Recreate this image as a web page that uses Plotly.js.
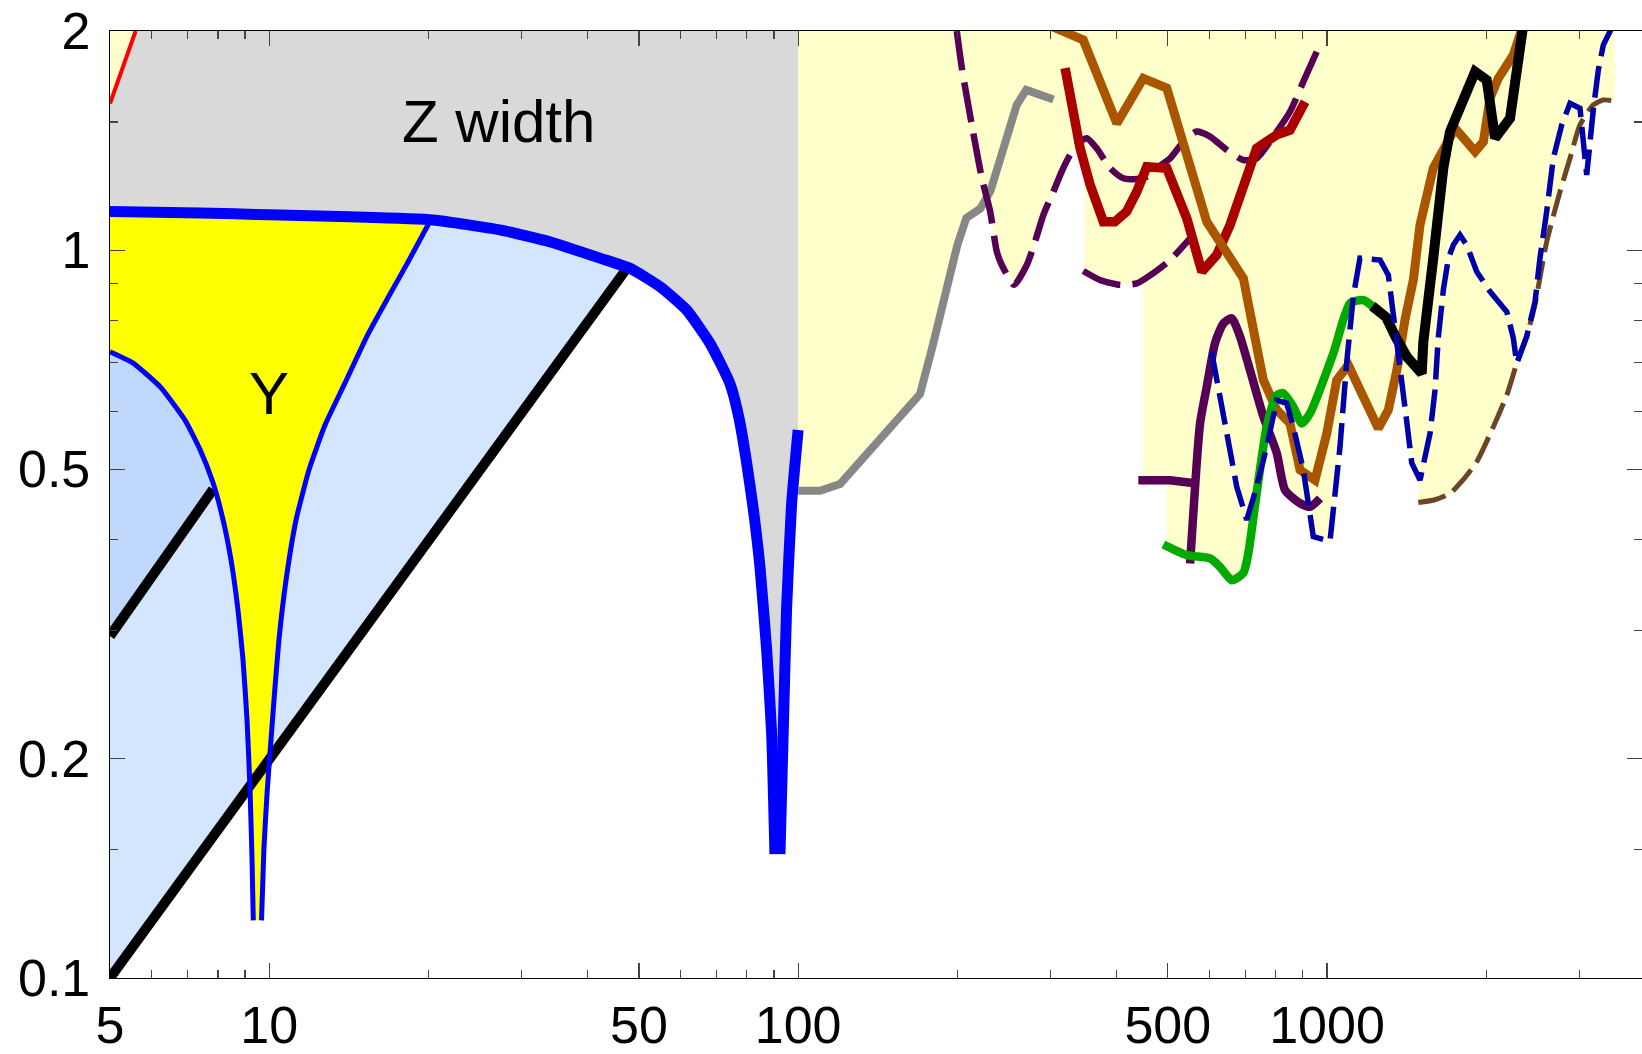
<!DOCTYPE html>
<html>
<head>
<meta charset="utf-8">
<script src="https://cdn.plot.ly/plotly-3.0.1.min.js"></script>
<style>html,body{margin:0;padding:0;background:#fff;}#chart{width:1642px;height:1054px;}</style>
</head>
<body>
<div id="chart"></div>
<script>
// ---------- data ----------
const xTickVals = [5, 10, 50, 100, 500, 1000];
const xTickText = ["5", "10", "50", "100", "500", "1000"];
const xMinorVals = [6, 7, 8, 9, 20, 30, 40, 60, 70, 80, 90, 200, 300, 400, 600, 700, 800, 900, 2000, 3000];
const yTickVals = [0.1, 0.2, 0.5, 1, 2];
const yTickText = ["0.1", "0.2", "0.5", "1", "2"];
const yMinorVals = [0.15, 0.3, 0.4, 0.6, 0.7, 0.8, 0.9, 1.5];

// Z width boundary (thick blue)
const zwX = [5, 7.4, 10, 14.2, 20.4, 27.3, 33.9, 42.2, 48.1, 54.8, 61.5, 68.1, 74.3, 77.3, 79.9, 82.3, 84.7, 87.2, 89.1, 90.4, 92.4, 93.7, 95.1, 97.2, 100];
const zwY = [1.130, 1.125, 1.118, 1.111, 1.100, 1.066, 1.027, 0.975, 0.944, 0.891, 0.828, 0.745, 0.656, 0.588, 0.511, 0.44, 0.367, 0.282, 0.217, 0.148, 0.148, 0.217, 0.322, 0.448, 0.566];

// Y region boundaries (thin blue)
const vLeftX = [5, 5.52, 6.22, 6.93, 7.4, 7.83, 8.18, 8.47, 8.73, 8.92, 9.08, 9.2, 9.28, 9.33];
const vLeftY = [0.725, 0.700, 0.649, 0.584, 0.532, 0.479, 0.426, 0.375, 0.320, 0.274, 0.226, 0.181, 0.145, 0.120];
const vRightX = [9.67, 9.77, 9.90, 10.03, 10.21, 10.43, 10.76, 11.24, 11.89, 12.75, 13.91, 15.31, 16.77, 18.30, 20.1];
const vRightY = [0.120, 0.150, 0.178, 0.203, 0.241, 0.291, 0.352, 0.426, 0.499, 0.575, 0.657, 0.762, 0.860, 0.963, 1.093];

// black straight lines
const blackLoX = [5, 48];
const blackLoY = [0.1, 0.955];
const blackUpX = [5, 7.83];
const blackUpY = [0.295, 0.469];

// red line at top-left
const redThinX = [5, 5.59];
const redThinY = [1.59, 2.0];

// experimental curves
const grayX = [100, 110, 120, 170, 180, 190, 200, 208, 221, 231, 244, 259, 270, 304];
const grayY = [0.467, 0.467, 0.477, 0.634, 0.743, 0.879, 1.016, 1.107, 1.14, 1.206, 1.377, 1.583, 1.66, 1.61];

const purpleDashAX = [199.5, 204, 213, 222.5, 230.7, 237.5, 242.7, 256, 270.6, 280.5, 290.9, 303.8, 315, 326.7, 338.8, 351.3, 366.9, 388.9, 412, 436.8, 456.3, 476.5, 505, 535, 567, 601, 646, 694.6, 736, 803.5, 851, 902, 956];
const purpleDashAY = [2.0, 1.778, 1.486, 1.256, 1.130, 0.995, 0.954, 0.896, 0.954, 1.027, 1.118, 1.203, 1.282, 1.351, 1.402, 1.425, 1.380, 1.296, 1.255, 1.252, 1.262, 1.296, 1.337, 1.409, 1.455, 1.432, 1.373, 1.330, 1.337, 1.455, 1.549, 1.704, 1.873];

const purpleDashBX = [346, 372, 406, 436.8, 469.5, 505, 553];
const purpleDashBY = [0.936, 0.910, 0.896, 0.900, 0.930, 0.969, 1.041];

const redX = [319.7, 331.4, 341.3, 356.5, 377.7, 397, 418, 436.8, 456.3, 497.7, 543, 580, 618.7, 655.6, 694.6, 736, 803.5, 851, 908.7];
const redY = [1.778, 1.549, 1.380, 1.229, 1.094, 1.094, 1.130, 1.203, 1.302, 1.296, 1.106, 0.934, 0.985, 1.083, 1.229, 1.380, 1.440, 1.462, 1.599];

const brownX = [294.4, 346, 400.4, 449.5, 497.7, 543, 592.4, 694.6, 725.6, 757.8, 803.5, 851, 889, 949, 999, 1043, 1097, 1171, 1250, 1306, 1355, 1404, 1456, 1499, 1588, 1746, 1905, 1975, 2033, 2108, 2250, 2350];
const brownY = [2.045, 1.944, 1.493, 1.722, 1.669, 1.351, 1.094, 0.915, 0.777, 0.663, 0.603, 0.578, 0.499, 0.483, 0.560, 0.663, 0.695, 0.629, 0.569, 0.603, 0.684, 0.802, 0.910, 1.083, 1.296, 1.470, 1.366, 1.409, 1.617, 1.722, 1.854, 2.04];

const purpleFlatX = [439.8, 505, 567];
const purpleFlatY = [0.483, 0.483, 0.478];
const purpleSolidX = [551, 575.4, 592.4, 614, 636.8, 660.4, 684.6, 715, 757.8, 803.5, 833, 889, 928.8, 970];
const purpleSolidY = [0.371, 0.578, 0.649, 0.745, 0.793, 0.806, 0.761, 0.684, 0.591, 0.526, 0.468, 0.449, 0.444, 0.456];

const greenX = [490.4, 543, 601, 627.6, 660.4, 694.6, 709.8, 736, 769, 803.5, 826.8, 863.6, 896, 928.8, 1028, 1105, 1171, 1217];
const greenY = [0.394, 0.381, 0.377, 0.367, 0.352, 0.360, 0.383, 0.463, 0.572, 0.632, 0.636, 0.609, 0.578, 0.597, 0.722, 0.845, 0.854, 0.838];

const blackX = [1217, 1293, 1350, 1417, 1510, 1521, 1588, 1659, 1708, 1810, 1905, 2004, 2078, 2218, 2334, 2350];
const blackY = [0.838, 0.809, 0.758, 0.713, 0.677, 0.749, 0.975, 1.296, 1.455, 1.617, 1.758, 1.713, 1.425, 1.517, 1.933, 2.04];

const blueDashX = [605, 618.7, 646, 675, 705, 736, 769, 803.5, 839, 863.6, 902, 942, 1013, 1028, 1058, 1089, 1121, 1154, 1260, 1306, 1335, 1374, 1415, 1446, 1499, 1566, 1600, 1623, 1659, 1696, 1733, 1784, 1837, 1919, 2033, 2187, 2250, 2284, 2385, 2473, 2527, 2602, 2678, 2778, 2880, 3008, 3097, 3187, 3258, 3329, 3477];
const blueDashY = [0.725, 0.663, 0.560, 0.473, 0.426, 0.473, 0.537, 0.622, 0.616, 0.572, 0.499, 0.404, 0.398, 0.444, 0.537, 0.699, 0.863, 0.975, 0.969, 0.924, 0.819, 0.677, 0.581, 0.510, 0.483, 0.560, 0.642, 0.758, 0.881, 0.975, 1.016, 1.049, 1.016, 0.934, 0.877, 0.823, 0.757, 0.699, 0.761, 0.849, 0.975, 1.130, 1.337, 1.486, 1.591, 1.566, 1.268, 1.558, 1.768, 1.913, 2.04];

const brownDashX = [1488, 1600, 1708, 1797, 1919, 2063, 2187, 2284, 2385, 2473, 2602, 2757, 2880, 3008, 3187, 3329, 3503];
const brownDashY = [0.450, 0.454, 0.463, 0.481, 0.512, 0.572, 0.632, 0.699, 0.761, 0.843, 1.027, 1.203, 1.337, 1.486, 1.583, 1.608, 1.602];

// excluded (pale yellow) region boundary
const exclX = [100, 100, 110, 120, 170, 180, 190, 200, 208, 221, 226, 230.7, 237.5, 242.7, 256, 270.6, 280.5, 290.9, 303.8, 315, 326.7, 338.8, 348, 348, 372, 406, 436.8, 449.5, 449.5, 497.7, 497.7, 543, 601, 627.6, 660.4, 694.6, 709.8, 736, 743, 769, 778, 803.5, 833, 889, 920, 942, 1013, 1028, 1058, 1090, 1097, 1171, 1250, 1306, 1355, 1365, 1374, 1415, 1446, 1488, 1488, 1600, 1708, 1797, 1919, 2063, 2187, 2284, 2385, 2473, 2602, 2757, 2880, 3008, 3187, 3329, 3503, 3503];
const exclY = [2.0, 0.467, 0.467, 0.477, 0.634, 0.743, 0.879, 1.016, 1.107, 1.14, 1.17, 1.130, 0.995, 0.954, 0.896, 0.954, 1.027, 1.118, 1.203, 1.282, 1.351, 1.402, 1.42, 0.93, 0.910, 0.896, 0.900, 0.91, 0.483, 0.483, 0.392, 0.381, 0.377, 0.367, 0.352, 0.360, 0.383, 0.463, 0.48, 0.537, 0.56, 0.526, 0.468, 0.449, 0.445, 0.404, 0.398, 0.444, 0.537, 0.695, 0.695, 0.629, 0.569, 0.603, 0.684, 0.71, 0.677, 0.581, 0.510, 0.487, 0.450, 0.454, 0.463, 0.481, 0.512, 0.572, 0.632, 0.699, 0.761, 0.843, 1.027, 1.203, 1.337, 1.486, 1.583, 1.608, 1.602, 2.0];

// labels
const labelZ = {text: "Z width", x: 27.1, y: 1.5};
const labelY = {text: "Y", x: 10.0, y: 0.635};

// ---------- build ----------
const FONT = "Liberation Sans, Arial, Helvetica, sans-serif";
const X0 = xTickVals[0], YTOP = yTickVals[yTickVals.length - 1];

function poly(xs, ys, color) {
  return {x: xs, y: ys, type: "scatter", mode: "lines", fill: "toself", fillcolor: color,
          line: {width: 0, color: color}, hoverinfo: "skip"};
}
function line(xs, ys, color, width, dash, shape, sm) {
  return {x: xs, y: ys, type: "scatter", mode: "lines",
          line: {color: color, width: width, dash: dash || "solid", shape: shape || "linear", smoothing: sm || 0.6},
          hoverinfo: "skip"};
}
const rev = a => a.slice().reverse();

// light blue band (under lower black line ... thick blue)
const lbIdx = zwX.map((v, i) => i).filter(i => zwX[i] < blackLoX[1]);
const lightX = blackLoX.concat(rev(lbIdx.map(i => zwX[i])));
const lightY = blackLoY.concat(rev(lbIdx.map(i => zwY[i])));

// medium blue (above upper black, left of Y)
const mbIdx = vLeftX.map((v, i) => i).filter(i => vLeftX[i] <= blackUpX[1]);
const medX = blackUpX.concat(rev(mbIdx.map(i => vLeftX[i])));
const medY = blackUpY.concat(rev(mbIdx.map(i => vLeftY[i])));

// gray Z width region
const grayRegX = zwX.concat([zwX[zwX.length - 1], X0]);
const grayRegY = zwY.concat([YTOP, YTOP]);

// yellow Y region
const yIdx = zwX.map((v, i) => i).filter(i => zwX[i] < vRightX[vRightX.length - 1]);
const yRegX = yIdx.map(i => zwX[i]).concat(rev(vRightX), rev(vLeftX));
const yRegY = yIdx.map(i => zwY[i]).concat(rev(vRightY), rev(vLeftY));

// small pale-yellow corner left of red line
const cornerX = redThinX.concat([X0]);
const cornerY = redThinY.concat([YTOP]);

// thick blue split into its two branches at the dip
const dipIdx = zwY.indexOf(Math.min.apply(null, zwY));
const zwLX = zwX.slice(0, dipIdx + 1), zwLY = zwY.slice(0, dipIdx + 1);
const zwRX = zwX.slice(dipIdx + 1), zwRY = zwY.slice(dipIdx + 1);

const traces = [
  poly(lightX, lightY, "#d3e6fd"),
  poly(medX, medY, "#bfd8fb"),
  poly(grayRegX, grayRegY, "#d9d9d9"),
  poly(exclX, exclY, "#ffffcc"),
  poly(cornerX, cornerY, "#ffffcc"),
  poly(yRegX, yRegY, "#ffff00"),
  line(blackLoX, blackLoY, "#000000", 10),
  line(blackUpX, blackUpY, "#000000", 10),
  line(vLeftX, vLeftY, "#0000ff", 5, "solid", "spline", 0.5),
  line(vRightX, vRightY, "#0000ff", 5, "solid", "spline", 0.5),
  line(zwLX, zwLY, "#0000ff", 11, "solid", "spline", 0.5),
  line(zwRX, zwRY, "#0000ff", 11, "solid", "spline", 0.5),
  line(redThinX, redThinY, "#ff0000", 4),
  line(grayX, grayY, "#878787", 8),
  line(purpleDashAX, purpleDashAY, "#550055", 6.5, "40px,12px", "spline"),
  line(purpleDashBX, purpleDashBY, "#550055", 6.5, "40px,12px", "spline"),
  line(redX, redY, "#aa0000", 9.5),
  line(brownX, brownY, "#aa5500", 9),
  line(purpleFlatX, purpleFlatY, "#550055", 8.5),
  line(purpleSolidX, purpleSolidY, "#550055", 8.5, "solid", "spline"),
  line(greenX, greenY, "#00aa00", 8.5, "solid", "spline"),
  line(blackX, blackY, "#000000", 10),
  line(brownDashX, brownDashY, "#6b4526", 5, "28px,9px", "spline"),
  line(blueDashX, blueDashY, "#0000aa", 5.5, "32px,10px")
];

const axisCommon = {
  type: "log", ticks: "inside", ticklen: 15, tickwidth: 1.2, tickcolor: "#444",
  showline: true, linecolor: "#000", linewidth: 1.3, mirror: "ticks",
  showgrid: false, zeroline: false, tickmode: "array",
  tickfont: {family: FONT, size: 52, color: "#000"}
};

const layout = {
  width: 1642, height: 1054,
  margin: {l: 110, r: 0, t: 31, b: 76, pad: 0},
  paper_bgcolor: "#ffffff", plot_bgcolor: "#ffffff",
  showlegend: false,
  xaxis: Object.assign({}, axisCommon, {
    range: [Math.log10(5), Math.log10(3940)],
    tickvals: xTickVals, ticktext: xTickText,
    ticklabelstandoff: 1,
    minor: {tickmode: "array", tickvals: xMinorVals, ticks: "inside", ticklen: 8, tickwidth: 1.2, tickcolor: "#444", showgrid: false}
  }),
  yaxis: Object.assign({}, axisCommon, {
    range: [-1, Math.log10(2)],
    tickvals: yTickVals, ticktext: yTickText,
    ticklabelstandoff: 8,
    minor: {tickmode: "array", tickvals: yMinorVals, ticks: "inside", ticklen: 8, tickwidth: 1.2, tickcolor: "#444", showgrid: false}
  }),
  annotations: [labelZ, labelY].map(a => ({
    text: a.text, x: Math.log10(a.x), y: Math.log10(a.y), xref: "x", yref: "y",
    showarrow: false, font: {family: FONT, size: 60, color: "#000"}
  }))
};

Plotly.newPlot("chart", traces, layout, {displayModeBar: false, staticPlot: true});
</script>
</body>
</html>
